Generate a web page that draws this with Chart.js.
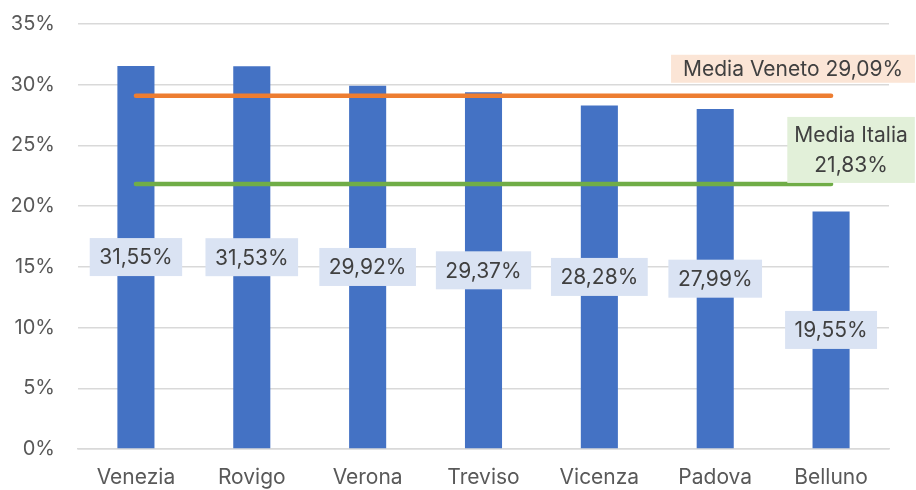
<!DOCTYPE html>
<html>
<head>
<meta charset="utf-8">
<script src="https://cdn.jsdelivr.net/npm/chart.js@4/dist/chart.umd.min.js"></script>
<style>
  html, body { margin: 0; padding: 0; background: #fff; }
  #wrap { width: 916px; height: 490px; }
</style>
</head>
<body>
<div id="wrap"><canvas id="chart" width="916" height="490"></canvas></div>
<script>
// dati
var province = ["Venezia", "Rovigo", "Verona", "Treviso", "Vicenza", "Padova", "Belluno"];
var valori = [31.55, 31.53, 29.92, 29.37, 28.28, 27.99, 19.55];
var mediaVeneto = 29.09;
var mediaItalia = 21.83;
var yTicks = [0, 5, 10, 15, 20, 25, 30, 35];

var FONT = "Inter, sans-serif";

function fmt(v) {
  return v.toFixed(2).replace(".", ",") + "%";
}

// etichette sulle barre e sulle linee di media
var labelPlugin = {
  id: "labels",
  afterDatasetsDraw: function(chart) {
    var ctx = chart.ctx;
    var xs = chart.scales.x, ys = chart.scales.y;
    ctx.save();
    ctx.font = "21px " + FONT;
    ctx.textAlign = "center";
    ctx.textBaseline = "middle";

    var meta = chart.getDatasetMeta(0);
    meta.data.forEach(function(bar, i) {
      var txt = fmt(valori[i]);
      var w = ctx.measureText(txt).width + 19;
      var h = 38;
      var cy = (bar.y + bar.base) / 2;
      ctx.fillStyle = "#DAE3F3";
      ctx.fillRect(bar.x - w / 2, cy - h / 2, w, h);
      ctx.fillStyle = "#404040";
      ctx.fillText(txt, bar.x, cy + 1);
    });

    var lastX = xs.getPixelForValue(province.length - 1);

    // Media Veneto
    var t1 = "Media Veneto " + fmt(mediaVeneto);
    var w1 = ctx.measureText(t1).width + 24;
    var cx1 = lastX - 38, cy1 = ys.getPixelForValue(mediaVeneto) - 27;
    ctx.fillStyle = "#FBE5D6";
    ctx.fillRect(cx1 - w1 / 2, cy1 - 14, w1, 28);
    ctx.fillStyle = "#404040";
    ctx.fillText(t1, cx1, cy1 + 1);

    // Media Italia
    var t2a = "Media Italia", t2b = fmt(mediaItalia);
    var w2 = ctx.measureText(t2a).width + 14;
    var cx2 = lastX + 20, cy2 = ys.getPixelForValue(mediaItalia) - 34;
    ctx.fillStyle = "#E2F0D9";
    ctx.fillRect(cx2 - w2 / 2, cy2 - 33, w2, 66);
    ctx.fillStyle = "#404040";
    ctx.fillText(t2a, cx2, cy2 - 14);
    ctx.fillText(t2b, cx2, cy2 + 16);
    ctx.restore();
  }
};

new Chart(document.getElementById("chart"), {
  type: "bar",
  data: {
    labels: province,
    datasets: [
      {
        type: "bar",
        data: valori,
        backgroundColor: "#4472C4",
        barPercentage: 0.32,
        categoryPercentage: 1,
        order: 2
      },
      {
        type: "line",
        data: province.map(function() { return mediaVeneto; }),
        borderColor: "#ED7D31",
        borderWidth: 4.5,
        borderCapStyle: "round",
        pointRadius: 0,
        order: 1
      },
      {
        type: "line",
        data: province.map(function() { return mediaItalia; }),
        borderColor: "#70AD47",
        borderWidth: 4.5,
        borderCapStyle: "round",
        pointRadius: 0,
        order: 1
      }
    ]
  },
  options: {
    responsive: false,
    animation: false,
    layout: { padding: { top: 24, right: 27, left: 0, bottom: 0 } },
    plugins: {
      legend: { display: false },
      tooltip: { enabled: false }
    },
    scales: {
      x: {
        grid: { display: false, drawTicks: false },
        border: { display: true, color: "#D9D9D9", width: 1.5 },
        ticks: { color: "#595959", font: { family: FONT, size: 21 }, padding: 16 },
        afterFit: function(s) { s.height = 41; }
      },
      y: {
        min: 0,
        max: 35,
        afterBuildTicks: function(s) {
          s.ticks = yTicks.map(function(v) { return { value: v }; });
        },
        grid: { color: "#D9D9D9", lineWidth: 1.5, drawTicks: false },
        border: { display: false },
        ticks: {
          color: "#595959",
          font: { family: FONT, size: 20 },
          padding: 23,
          callback: function(v) { return v + "%"; }
        },
        afterFit: function(s) {
          s.width = 78;
          // la padding delle etichette non deve spostare l'area
          s.paddingTop = 0;
          s.paddingBottom = 0;
        }
      }
    }
  },
  plugins: [labelPlugin]
});
</script>
</body>
</html>
